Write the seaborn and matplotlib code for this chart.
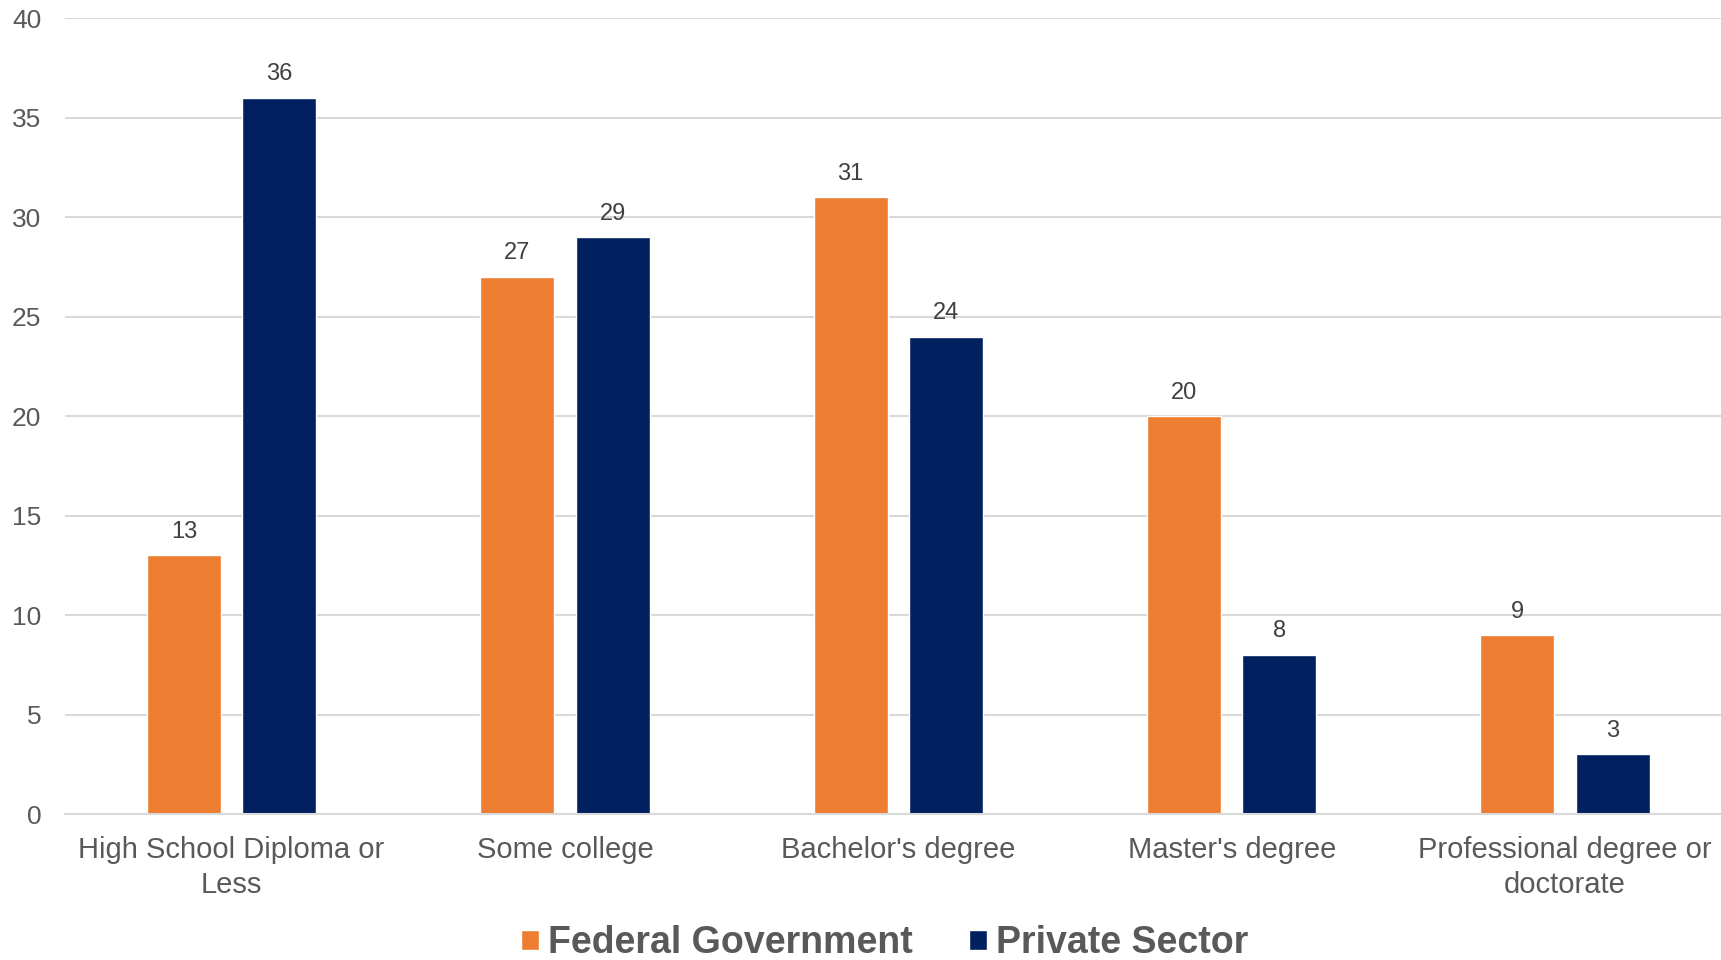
import matplotlib
matplotlib.use("Agg")
import matplotlib.pyplot as plt
import seaborn as sns
import pandas as pd

categories = ["High School Diploma or\nLess", "Some college", "Bachelor's degree",
              "Master's degree", "Professional degree or\ndoctorate"]
federal = [13, 27, 31, 20, 9]
private = [36, 29, 24, 8, 3]
series_names = ["Federal Government", "Private Sector"]
colors = ["#ED7D31", "#002060"]
yticks = [0, 5, 10, 15, 20, 25, 30, 35, 40]

df = pd.DataFrame({
    "cat": categories * 2,
    "val": federal + private,
    "series": [series_names[0]] * len(categories) + [series_names[1]] * len(categories),
})

sns.set_theme(style="white")
plt.rcParams["font.family"] = ["Liberation Sans", "DejaVu Sans"]

fig = plt.figure(figsize=(17.21, 9.6), dpi=100)
ax = fig.add_axes([0.0377, 0.152, 0.9686, 0.829])

sns.barplot(data=df, x="cat", y="val", hue="series", palette=colors,
            width=0.572, gap=0.224, ax=ax, saturation=1, legend=True)

for c in ax.containers:
    ax.bar_label(c, padding=9, fontsize=17, color="#404040")

ax.set_ylim(0, 40)
ax.set_yticks(yticks)
ax.set_xlim(-0.5, len(categories) - 0.5)
ax.yaxis.grid(True, color="#d9d9d9", linewidth=1.5)
ax.set_axisbelow(True)
for s in ["left", "right", "top"]:
    ax.spines[s].set_visible(False)
ax.spines["bottom"].set_color("#d9d9d9")
ax.spines["bottom"].set_linewidth(1.5)
ax.tick_params(axis="y", length=0, pad=17, labelsize=19, labelcolor="#595959")
ax.tick_params(axis="x", length=0, pad=15.5, labelsize=21, labelcolor="#595959")
for lbl in ax.get_xticklabels():
    lbl.set_linespacing(1.35)
ax.set_xlabel("")
ax.set_ylabel("")

leg = ax.legend(loc="center", bbox_to_anchor=(0.514, 0.0175), bbox_transform=fig.transFigure,
                ncol=2, frameon=False,
                prop={"size": 27, "weight": "bold"}, handlelength=0.47, handleheight=0.47,
                handletextpad=0.25, columnspacing=1.5, borderpad=0.1)
for t in leg.get_texts():
    t.set_color("#595959")

fig.savefig("out.png", dpi=100)
